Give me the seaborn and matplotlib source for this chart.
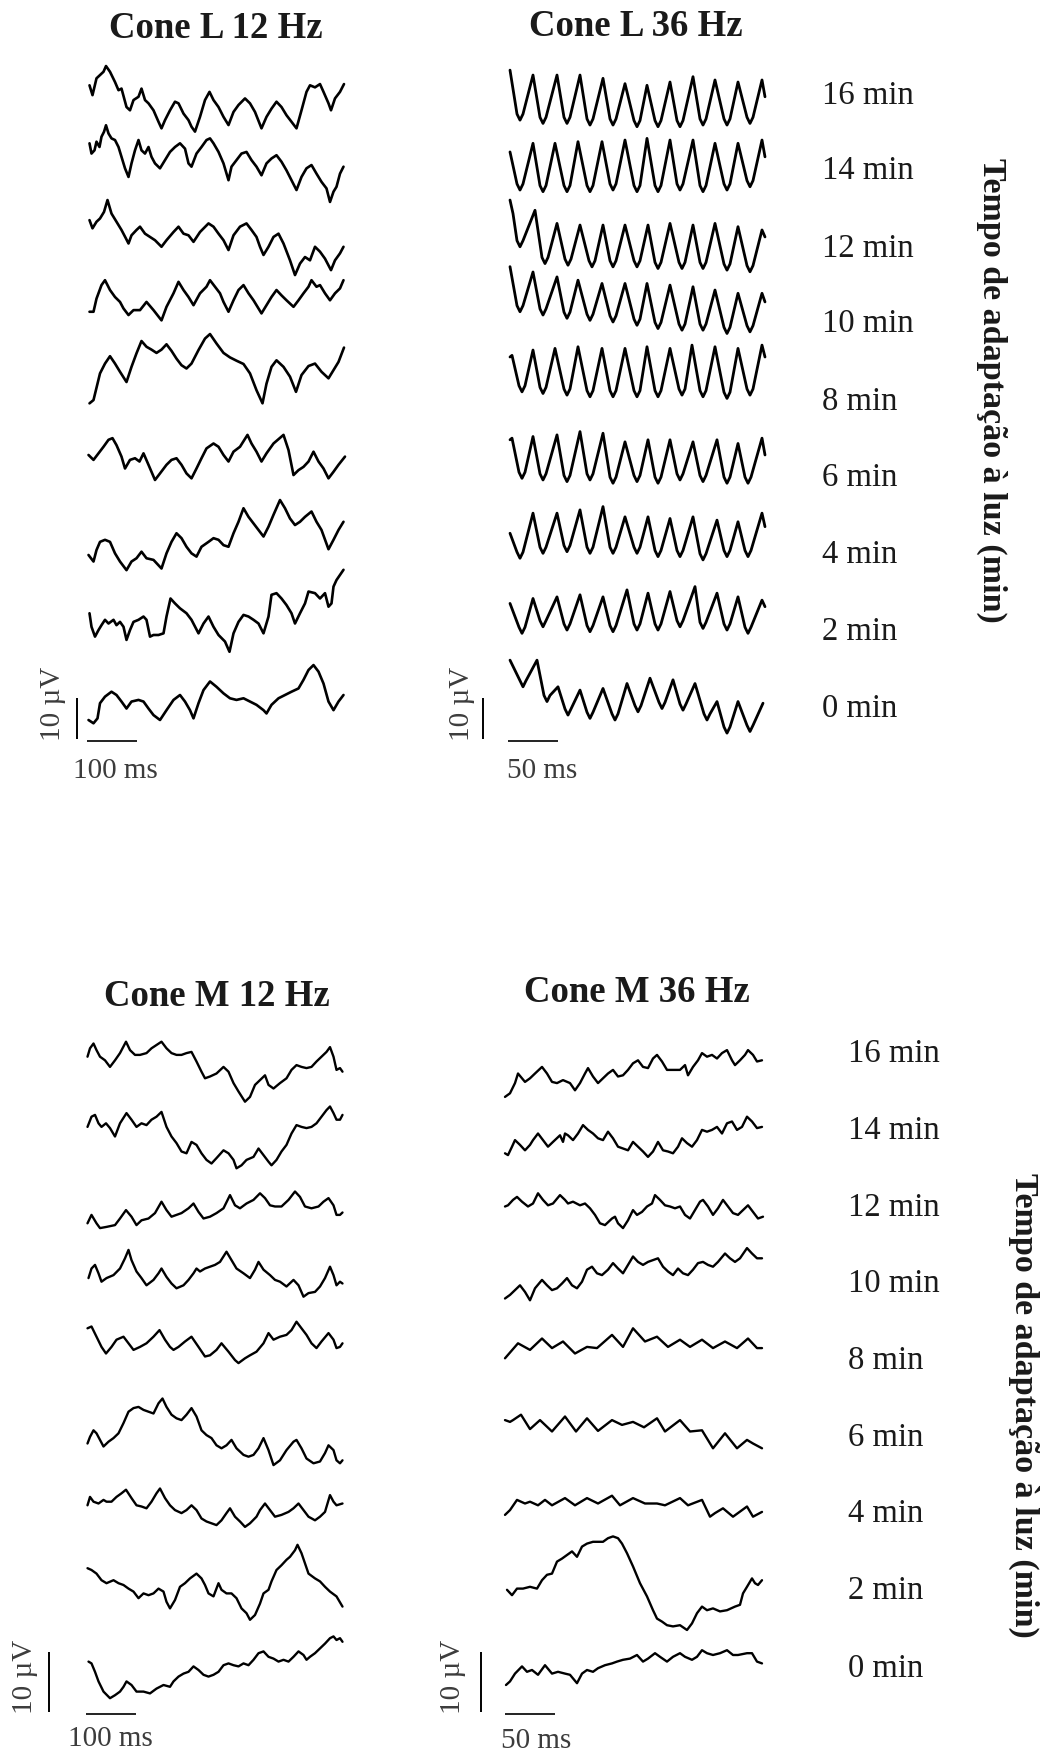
import numpy as np
import matplotlib
matplotlib.use("Agg")
import matplotlib.pyplot as plt
import seaborn as sns

sns.set_style("white")
plt.rcParams['font.family'] = ['Liberation Serif', 'DejaVu Serif']

# ---------------- data (time in ms, amplitude in µV) ----------------
MIN_LABELS = ["0 min", "2 min", "4 min", "6 min", "8 min", "10 min", "12 min", "14 min", "16 min"]
TITLES = ["Cone L 12 Hz", "Cone L 36 Hz", "Cone M 12 Hz", "Cone M 36 Hz"]
AXIS_LABEL = "Tempo de adaptação à luz (min)"

# ---- Cone L 12 Hz ----
L12_00_T = [1,11,19,24,34,47,57,67,77,87,101,111,121,131,144,157,171,184,194,204,211,221,231,244,257,271,284,297,311,324,337,351,357,367,381,394,407,421,431,441,451,461,471,481,491,501,511]
L12_00_V = [-6.1,-6.9,-5.7,-2.0,-0.4,0.8,0,-1.6,-3.3,-1.6,-1.2,-1.6,-3.3,-4.9,-6.1,-3.7,-1.2,0,-1.6,-3.7,-5.7,-2.0,1.2,3.3,2.0,0.4,-0.8,-1.2,-0.8,-1.6,-2.4,-3.7,-4.5,-2.4,-0.8,0,0.8,1.6,3.7,6.1,7.3,5.7,2.8,-1.6,-3.7,-1.6,0]
L12_02_T = [3,7,14,21,27,34,41,51,57,64,71,77,84,91,101,111,117,124,131,141,151,157,165,174,184,197,207,221,231,241,251,261,274,283,291,301,311,321,331,341,351,361,367,377,387,397,407,414,424,434,441,454,464,474,481,487,491,497,511]
L12_02_V = [1.4,-1.9,-4.3,-2.7,-1.5,-0.2,-1.1,-0.2,-1.5,-0.7,-1.9,-5.1,-2.7,-0.7,-0.2,0.6,-0.2,-4.3,-3.9,-3.9,-3.5,0.6,5.0,3.8,2.6,1.4,-0.2,-3.5,-1.1,0.6,-1.9,-3.9,-5.5,-8.0,-3.5,-0.7,1.0,0.6,-0.2,-1.1,-3.5,0.6,5.9,6.3,5.0,3.4,1.4,-1.1,1.4,3.8,6.7,6.3,5.0,6.3,3.0,3.8,7.9,9.5,12.0]
L12_04_T = [1,11,17,24,34,44,54,64,77,87,97,107,117,131,147,157,167,177,187,197,207,217,227,241,251,261,271,281,291,301,311,321,331,341,351,361,371,384,394,404,414,424,434,447,457,467,481,491,501,511]
L12_04_V = [-2.8,-4.4,-1.6,0.4,0.9,0.4,-2.4,-4.4,-6.5,-4.4,-3.6,-2.0,-3.6,-4.0,-6.1,-2.4,0.4,2.5,1.3,-0.8,-2.4,-3.2,-0.8,0.4,1.3,0.9,-0.4,-0.8,2.5,5.3,8.6,6.5,4.9,3.3,1.7,4.1,7.0,10.6,8.6,6.1,4.5,5.3,6.5,7.8,5.3,3.3,-1.4,0.9,3.3,5.3]
L12_06_T = [1,11,21,31,41,49,57,67,74,84,94,103,111,121,134,144,157,167,177,187,197,207,217,227,237,251,261,271,281,291,304,319,327,337,347,357,371,391,401,411,421,431,441,451,461,471,481,491,501,514]
L12_06_V = [3.3,2.1,3.7,5.3,7.0,7.4,5.7,2.9,0,2.1,2.5,1.7,3.7,0.9,-2.8,-1.2,0.9,2.1,2.5,0.9,-1.2,-2.4,0,2.5,4.9,6.1,5.3,3.3,1.7,4.1,5.3,8.2,6.1,4.1,1.7,3.7,6.1,8.2,4.5,-1.6,-0.4,0.4,1.7,4.1,1.7,0,-2.4,-0.8,0.9,2.9]
L12_08_T = [3,11,24,34,44,54,64,77,87,97,107,117,127,137,147,157,167,177,187,197,207,221,234,244,257,271,284,297,311,324,337,349,357,367,377,391,404,416,427,441,454,467,481,491,501,512]
L12_08_V = [-2.4,-1.6,4.9,7.3,9.1,7.3,5.3,2.8,6.5,9.8,12.8,11.4,10.7,9.9,10.7,12.0,10.4,8.5,6.9,6.1,7.3,10.6,13.4,14.5,12.2,9.9,8.8,8.0,7.2,4.9,0.8,-2.4,2.4,6.5,8.1,6.5,4.1,0.4,4.5,6.7,7.3,5.3,3.7,5.7,7.7,11.2]
L12_10_T = [3,11,17,27,34,44,54,64,71,81,91,104,117,131,147,157,171,181,191,201,211,224,237,244,254,264,271,281,291,301,311,321,331,337,347,357,367,377,387,397,411,421,431,441,447,457,464,474,484,494,504,511]
L12_10_V = [1.4,1.4,4.6,7.9,9.1,6.7,5.0,3.8,2.2,0.6,1.8,1.8,3.8,1.8,-0.7,2.6,5.9,8.7,6.7,5.0,3.0,5.9,7.5,9.1,7.5,5.9,3.8,1.4,4.2,6.7,7.9,5.9,4.2,3.0,1.0,3.0,5.0,6.7,5.4,4.2,2.6,4.2,5.9,7.5,9.1,7.5,7.9,5.9,4.2,5.9,7.1,9.1]
L12_12_T = [3,9,17,24,32,39,47,57,67,76,81,87,97,104,114,124,134,147,157,171,181,191,201,211,224,241,251,261,271,281,291,304,317,327,337,344,351,361,371,381,391,404,414,424,434,444,454,464,474,486,494,504,511]
L12_12_V = [5.7,3.7,5.3,6.1,7.7,10.6,7.3,5.3,3.3,1.2,0,2.0,3.3,4.1,2.4,1.6,0.8,-0.8,0.8,2.8,4.1,2.4,2.0,0.4,2.8,4.9,4.1,2.4,0.8,-1.6,2.0,4.1,4.9,3.3,1.6,-0.8,-2.8,-0.8,1.6,2.4,0,-4.1,-7.7,-4.9,-3.3,-4.1,-0.8,-2.0,-3.7,-6.5,-4.1,-2.4,-0.8]
L12_14_T = [3,7,13,17,23,27,32,36,41,47,54,61,67,74,81,87,94,101,107,114,121,127,134,144,154,164,174,184,194,201,207,217,227,237,244,251,261,271,281,287,297,307,317,327,337,347,357,367,377,387,397,407,417,427,437,447,457,467,477,484,491,497,504,511]
L12_14_V = [5.9,3.4,4.2,6.3,5.0,7.5,8.7,10.3,8.3,7.1,6.7,5.0,2.6,-0.2,-2.3,1.0,4.2,6.7,4.2,3.4,5.0,2.6,1.0,-0.2,1.8,3.8,5.0,5.9,4.6,1.0,0.2,3.4,5.0,6.7,7.1,5.9,3.8,1.0,-3.1,0.2,1.8,3.4,3.8,1.8,0.2,-1.9,1.0,2.2,3.0,1.4,-0.7,-3.1,-5.5,-2.3,-0.2,0.6,-1.5,-3.5,-5.1,-8.4,-5.9,-4.7,-1.5,0.2]
L12_16_T = [3,9,17,24,31,36,44,54,61,67,77,84,91,101,107,114,121,131,141,147,154,164,174,181,191,201,207,214,224,234,243,251,261,271,281,291,301,314,324,334,347,357,367,377,387,397,407,417,427,437,444,454,464,471,481,486,494,504,512]
L12_16_V = [2.0,-0.4,3.7,4.5,5.3,6.7,5.3,2.8,0.8,1.2,-3.3,-4.1,-1.6,-0.8,1.2,-1.6,-2.4,-4.1,-6.9,-8.5,-6.5,-4.1,-2.0,-2.4,-4.9,-6.5,-8.1,-9.3,-5.7,-1.6,0.4,-1.6,-3.3,-5.7,-7.7,-4.5,-2.8,-1.2,-2.4,-4.5,-8.5,-5.7,-3.7,-2.0,-3.3,-5.3,-6.9,-8.5,-4.1,0.4,2.0,1.5,2.3,0.4,-2.4,-4.1,-1.2,0.4,2.3]

# ---- Cone L 36 Hz ----
L36_00_T = [0,10,13,16,27,34,37,40,48,55,58,61,70,77,80,83,93,102,105,108,117,125,128,131,140,149,152,155,163,170,173,176,185,194,197,200,207,214,217,220,228,237,240,243,253]
L36_00_V = [8.5,3.5,2.0,3.5,8.5,-0.1,-1.6,-0.1,2.0,-3.4,-4.9,-3.4,1.2,-4.2,-5.7,-4.2,1.6,-4.6,-6.1,-4.6,2.8,-2.6,-4.1,-2.6,4.1,-1.8,-3.3,-1.8,3.7,-2.2,-3.7,-2.2,2.8,-4.6,-6.1,-4.6,-1.6,-7.8,-9.3,-7.8,-1.6,-7.4,-8.9,-7.4,-2.0]
L36_02_T = [0,9,12,15,23,30,33,36,47,54,57,60,70,77,80,83,93,100,103,106,117,124,127,130,138,145,148,151,160,167,170,173,185,190,193,196,207,214,217,220,228,235,238,241,252,255]
L36_02_V = [3.8,-2.0,-3.5,-2.0,5.0,-0.4,-1.9,-0.4,5.4,-1.2,-2.7,-1.2,5.9,-1.6,-3.1,-1.6,5.4,-1.6,-3.1,-1.6,7.1,-1.2,-2.7,-1.2,6.3,-1.2,-2.7,-1.2,6.7,-0.4,-1.9,-0.4,7.9,-0.8,-2.3,-0.8,6.3,-1.2,-2.7,-1.2,5.4,-2.0,-3.5,-2.0,4.6,3.0]
L36_04_T = [0,7,10,13,23,30,33,36,47,54,57,60,70,77,80,83,93,100,103,106,115,124,127,130,138,145,148,151,160,167,170,173,183,190,193,196,207,214,217,220,228,235,238,241,252,255]
L36_04_V = [2.5,-2.1,-3.6,-2.1,7.4,-0.9,-2.4,-0.9,7.4,-0.5,-2.0,-0.5,8.2,-0.9,-2.4,-0.9,9.0,-0.9,-2.4,-0.9,6.5,-0.9,-2.4,-0.9,6.5,-1.7,-3.2,-1.7,6.1,-1.7,-3.2,-1.7,6.5,-2.5,-4.0,-2.5,5.7,-1.7,-3.2,-1.7,5.3,-1.7,-3.2,-1.7,7.4,4.1]
L36_06_T = [0,2,9,12,15,23,30,33,36,47,54,57,60,70,77,80,83,93,100,103,106,115,124,127,130,138,145,148,151,160,167,170,173,183,190,193,196,207,214,217,220,228,235,238,241,252,255]
L36_06_V = [7.0,7.4,-0.9,-2.4,-0.9,7.8,-1.3,-2.8,-1.3,8.2,-1.7,-3.2,-1.7,9.0,-1.3,-2.8,-1.3,8.6,-2.1,-3.6,-2.1,6.5,-1.7,-3.2,-1.7,7.0,-2.1,-3.6,-2.1,7.0,-1.3,-2.8,-1.3,6.5,-1.7,-3.2,-1.7,7.0,-2.1,-3.6,-2.1,6.1,-2.1,-3.6,-2.1,7.4,3.3]
L36_08_T = [0,2,9,12,15,23,30,33,36,45,54,57,60,68,77,80,83,92,100,103,106,115,124,127,130,137,145,148,151,160,169,172,175,182,190,193,196,205,214,217,220,228,237,240,243,252,255]
L36_08_V = [8.9,9.3,1.9,0.4,1.9,10.6,1.5,0,1.5,11.0,1.1,-0.4,1.1,11.4,0.7,-0.8,0.7,11.0,0.7,-0.8,0.7,11.0,0.7,-0.8,0.7,11.4,0.7,-0.8,0.7,11.0,1.1,-0.4,1.1,11.8,0.7,-0.8,0.7,11.4,0.3,-1.2,0.3,11.0,1.1,-0.4,1.1,11.8,8.9]
L36_10_T = [0,7,10,13,23,30,33,36,47,54,57,60,68,77,80,83,92,100,103,106,115,124,127,130,137,145,148,151,160,169,172,175,183,190,193,196,205,214,217,220,228,237,240,243,252,255]
L36_10_V = [12.4,2.9,1.4,2.9,11.1,2.1,0.6,2.1,9.9,1.3,-0.2,1.3,9.1,0.8,-0.7,0.8,8.3,0.4,-1.1,0.4,8.3,-0.4,-1.9,-0.4,8.3,-1.2,-2.7,-1.2,7.9,-1.6,-3.1,-1.6,7.5,-1.6,-3.1,-1.6,6.7,-2.4,-3.9,-2.4,5.9,-2.0,-3.5,-2.0,5.9,3.8]
L36_12_T = [0,3,7,10,13,25,32,35,38,47,55,58,61,70,79,82,85,93,100,103,106,115,124,127,130,138,145,148,151,160,169,172,175,183,190,193,196,205,214,217,220,228,237,240,243,252,255]
L36_12_V = [10.6,7.3,0.7,-0.8,0.7,8.1,-3.4,-4.9,-3.4,4.9,-3.8,-5.3,-3.8,4.5,-4.2,-5.7,-4.2,4.5,-4.2,-5.7,-4.2,4.5,-4.2,-5.7,-4.2,4.5,-4.6,-6.1,-4.6,4.9,-4.6,-6.1,-4.6,4.5,-4.6,-6.1,-4.6,4.9,-5.0,-6.5,-5.0,4.1,-5.4,-6.9,-5.4,3.3,1.6]
L36_14_T = [0,7,10,13,23,30,33,36,45,54,57,60,68,77,80,83,92,100,103,106,115,124,127,130,137,145,148,151,160,167,170,173,183,190,193,196,205,214,217,220,228,237,240,243,252,255]
L36_14_V = [3.8,-4.0,-5.5,-4.0,5.9,-4.4,-5.9,-4.4,5.9,-4.4,-5.9,-4.4,6.3,-4.4,-5.9,-4.4,6.3,-4.0,-5.5,-4.0,6.7,-4.4,-5.9,-4.4,7.1,-4.4,-5.9,-4.4,6.7,-4.0,-5.5,-4.0,6.7,-4.4,-5.9,-4.4,5.9,-4.0,-5.5,-4.0,5.9,-3.2,-4.7,-3.2,6.7,2.6]
L36_16_T = [0,7,10,13,23,30,33,36,47,54,57,60,70,77,80,83,93,100,103,106,115,124,127,130,137,145,148,151,160,167,170,173,183,190,193,196,205,214,217,220,228,237,240,243,252,255]
L36_16_V = [5.7,-5.0,-6.5,-5.0,4.5,-5.8,-7.3,-5.8,4.5,-5.8,-7.3,-5.8,4.5,-6.2,-7.7,-6.2,3.7,-6.2,-7.7,-6.2,2.4,-6.6,-8.1,-6.6,2.0,-6.6,-8.1,-6.6,2.8,-6.6,-8.1,-6.6,4.1,-6.2,-7.7,-6.2,3.3,-6.2,-7.7,-6.2,2.8,-5.8,-7.3,-5.8,3.3,-0.8]

# ---- Cone M 12 Hz ----
M12_00_T = [3,9,16,23,33,46,56,66,73,79,89,99,113,126,139,153,166,173,183,193,203,213,223,233,243,253,263,273,283,293,303,313,323,333,343,353,363,373,383,393,403,413,423,433,439,446,456,466,476,486,493,499,506,511]
M12_00_V = [-1.1,-1.4,-2.8,-4.4,-6.1,-7.2,-6.7,-6.1,-5.3,-4.4,-5.0,-6.1,-6.1,-6.4,-5.6,-5.0,-5.3,-4.4,-3.6,-3.1,-2.8,-1.9,-2.5,-3.3,-3.6,-3.3,-2.8,-1.7,-1.4,-1.7,-1.9,-1.4,-1.7,-0.8,0.3,0.6,-0.3,-0.6,-1.1,-0.8,-1.1,-0.3,0.6,0,-0.8,-0.3,0.3,1.1,1.9,2.8,3.1,2.5,2.8,2.2]
M12_02_T = [1,9,19,29,39,53,63,73,83,93,103,113,123,133,143,153,159,166,176,186,196,206,219,229,236,243,253,263,269,279,289,299,309,319,326,336,346,353,363,369,379,389,399,406,416,421,429,436,443,456,466,476,486,499,511]
M12_02_V = [1.8,1.5,0.9,-0.2,-0.7,-0.2,-0.7,-1.0,-1.6,-2.1,-3.2,-2.4,-2.7,-2.4,-1.6,-2.1,-3.8,-4.9,-3.5,-1.3,-0.7,0.1,0.9,0.1,-1.0,-2.4,-2.9,-0.7,-1.8,-2.4,-2.4,-3.2,-4.9,-5.7,-6.8,-6.0,-4.1,-2.4,-1.8,-0.4,1.5,2.3,3.2,3.7,4.8,5.7,4.3,2.6,0.9,0.1,-0.4,-1.3,-2.1,-2.9,-4.6]
M12_04_T = [1,6,13,23,33,39,49,59,69,78,89,99,109,119,129,139,146,156,166,176,189,199,209,219,229,239,249,259,269,279,286,296,306,316,326,339,346,356,366,376,389,403,413,423,433,443,456,466,476,486,493,499,511]
M12_04_V = [-0.3,1.1,0.3,0,0.6,0.3,0.3,1.1,1.7,2.3,0.9,-0.3,-0.5,-0.8,0.3,1.7,2.5,0.9,-0.3,-1.1,-1.6,-1.1,-0.3,-1.1,-2.5,-3.0,-3.3,-3.6,-2.8,-1.6,-0.8,-2.2,-3.0,-3.9,-3.3,-2.2,-1.1,0,-1.1,-2.2,-1.9,-1.4,-0.8,0,-1.1,-2.2,-2.8,-2.2,-1.4,1.4,0.3,-0.3,0]
M12_06_T = [1,6,13,19,26,33,43,53,63,73,83,93,103,113,123,133,143,151,159,169,179,189,199,209,219,229,239,249,259,269,279,289,299,313,323,333,343,353,363,373,386,399,413,419,429,439,453,466,476,483,493,499,506,511]
M12_06_V = [-2.5,-1.4,-0.3,-0.8,-1.9,-3.0,-2.2,-1.6,-0.8,0.9,2.8,3.4,3.6,3.1,2.8,2.5,4.2,5.0,3.6,2.3,1.7,1.4,2.3,3.4,2.0,-0.3,-1.1,-1.6,-2.8,-3.3,-2.8,-1.9,-3.3,-4.4,-4.7,-4.4,-3.3,-1.6,-3.6,-6.1,-5.3,-3.6,-2.2,-1.9,-3.3,-5.0,-5.8,-5.5,-4.1,-2.8,-3.6,-5.3,-5.8,-5.3]
M12_08_T = [1,9,19,29,38,49,59,73,83,93,106,119,133,145,156,166,173,183,196,209,223,236,246,259,269,283,296,303,316,326,339,353,363,373,386,399,409,419,429,439,449,459,469,483,493,499,506,511]
M12_08_V = [4.2,4.5,2.8,1.1,0,1.1,2.3,2.8,1.7,0.6,1.1,1.7,2.8,3.9,2.3,1.1,0.6,1.1,2.0,2.8,1.1,-0.5,-0.3,0.6,1.7,0.3,-1.1,-1.6,-0.8,-0.3,0.3,1.7,3.4,2.3,2.8,3.1,3.9,5.3,4.2,3.1,1.7,0.9,2.0,3.4,2.3,0.9,1.1,1.7]
M12_10_T = [3,9,16,23,29,39,53,66,76,83,89,99,109,119,133,143,149,159,169,179,193,203,213,219,226,236,246,256,266,279,289,299,313,326,336,343,353,366,376,386,399,413,423,433,443,456,466,476,486,493,499,506,511]
M12_10_V = [-0.1,1.5,2.1,0.7,-0.7,-0.1,0.4,1.5,3.2,4.6,2.9,1.0,-0.1,-1.3,-0.4,0.7,1.5,0.1,-1.0,-1.8,-1.3,-0.4,0.7,1.5,1.0,1.5,1.8,2.1,2.6,4.3,2.9,1.5,0.7,-0.1,1.3,2.6,1.3,0.4,-0.4,-0.7,-1.5,-0.4,-1.3,-3.2,-2.6,-2.4,-1.5,-0.1,1.8,0.4,-1.3,-0.7,-1.0]
M12_12_T = [1,9,19,26,39,56,66,78,89,99,109,123,136,149,159,169,179,189,203,213,223,233,246,259,273,286,296,306,319,333,346,356,366,376,389,403,416,426,436,449,463,473,483,493,499,506,511]
M12_12_V = [-3.3,-1.9,-3.3,-4.1,-3.9,-3.6,-2.5,-1.1,-2.2,-3.6,-2.8,-2.5,-1.6,0.3,-1.1,-2.2,-1.9,-1.6,-0.8,0,-1.4,-2.5,-2.2,-1.6,-0.8,1.4,-0.3,-0.8,0,0.6,1.7,0.9,-0.3,-0.5,-0.5,0.6,2.0,1.1,-0.5,-0.8,-0.5,0.3,0.9,-0.3,-1.9,-1.9,-1.5]
M12_14_T = [1,9,16,23,29,38,46,56,66,79,89,99,109,119,129,139,149,159,169,179,189,199,209,219,229,239,249,259,273,283,293,299,309,319,333,343,353,363,369,379,389,399,409,419,429,439,449,459,469,479,486,493,499,506,511]
M12_14_V = [0.1,1.8,2.1,0.7,0.1,0.7,-0.1,-1.5,0.7,2.4,1.3,0.1,0.7,0.4,1.3,1.8,2.6,0.1,-1.5,-2.6,-4.0,-4.3,-2.4,-2.9,-4.3,-5.4,-6.0,-5.1,-3.8,-4.3,-5.4,-6.8,-6.3,-5.4,-4.9,-3.5,-4.6,-5.7,-6.3,-5.4,-4.0,-2.9,-1.0,0.4,0.1,-0.1,0.1,0.7,1.8,2.9,3.5,2.4,1.3,1.3,2.1]
M12_16_T = [1,6,13,19,26,36,46,56,66,78,86,96,106,119,129,149,159,169,179,189,199,209,219,229,236,246,259,273,283,293,303,316,326,336,346,356,363,373,386,399,409,419,429,439,449,459,469,479,486,493,499,506,511]
M12_16_V = [-0.7,0.7,1.5,0.4,-0.7,-1.3,-2.4,-1.3,-0.1,1.8,0.4,-0.4,-0.4,-0.1,0.7,1.8,0.7,-0.1,-0.4,-0.4,-0.1,0.1,-1.5,-3.2,-4.3,-4.0,-3.5,-2.4,-3.2,-5.1,-6.5,-8.2,-7.4,-5.4,-4.6,-3.8,-5.4,-6.0,-5.1,-4.3,-2.9,-2.1,-2.4,-2.6,-2.4,-1.5,-0.7,0.1,0.9,-0.7,-2.9,-2.6,-3.2]

# ---- Cone M 36 Hz ----
M36_00_T = [1,5,10,17,22,27,33,40,47,53,60,65,72,77,82,88,93,100,107,112,118,125,132,138,143,150,155,162,168,175,180,187,192,197,202,208,215,222,228,233,242,247,252,257]
M36_00_V = [-5.0,-4.4,-3.1,-1.9,-2.8,-2.5,-3.3,-1.7,-3.1,-2.8,-3.1,-3.3,-4.7,-3.1,-2.5,-2.8,-2.2,-1.7,-1.4,-1.1,-0.8,-0.6,0,-1.1,-0.6,0.3,-0.3,-1.1,-0.3,0.3,-0.3,-0.8,-0.3,0.8,0.3,0,0.3,0.8,0,0,0.3,0.3,-1.1,-1.4]
M36_02_T = [2,7,12,18,25,32,37,42,47,52,57,62,67,72,77,82,88,93,98,103,108,113,117,122,128,135,142,148,152,157,162,168,175,182,187,192,197,202,208,215,222,230,235,238,242,247,250,253,257]
M36_02_V = [-1.8,-2.7,-1.6,-1.6,-1.3,-1.6,-0.2,0.7,0.9,2.9,3.4,4.0,4.6,3.7,5.4,5.9,6.2,6.2,6.2,6.8,7.1,6.8,5.9,4.3,2.1,-0.7,-2.9,-5.2,-6.6,-7.1,-7.7,-7.9,-7.7,-8.5,-7.4,-5.7,-4.6,-5.2,-4.9,-5.4,-5.2,-4.6,-4.3,-2.4,-1.3,0.1,-0.7,-1.0,-0.2]
M36_04_T = [0,5,12,20,25,33,40,47,60,70,82,93,107,115,128,140,152,160,175,183,197,205,210,218,228,242,248,257]
M36_04_V = [-1.9,-1.1,0.6,0,0.3,-0.3,0.6,-0.3,0.9,-0.3,0.9,0,1.3,-0.3,0.9,0,0,-0.3,0.9,-0.3,0.6,-2.2,-1.6,-0.8,-2.2,-0.5,-2.2,-1.4]
M36_06_T = [0,5,8,16,25,35,47,60,71,82,93,107,117,128,139,152,160,175,185,197,208,220,232,242,248,257]
M36_06_V = [1.4,1.1,1.4,2.3,-0.1,1.4,-0.5,2.0,-0.5,1.7,-0.4,1.4,0.6,1.1,0.2,1.7,-0.5,1.4,-0.5,-0.3,-3.3,-0.8,-3.3,-1.9,-2.5,-3.3]
M36_08_T = [0,13,25,37,47,58,70,82,92,107,118,128,140,152,163,175,185,197,208,220,232,243,252,257]
M36_08_V = [-0.8,1.7,0.6,2.5,0.9,2.0,0,1.1,0.9,3.1,1.1,4.2,2.0,2.8,1.1,2.3,1.1,2.3,0.9,2.0,0.9,2.5,0.9,0.9]
M36_10_T = [0,5,10,15,20,25,30,37,42,47,52,57,62,67,72,77,82,87,92,97,103,108,113,118,123,128,133,138,143,148,153,158,163,168,173,178,183,188,193,198,203,208,213,220,225,230,235,242,247,252,257]
M36_10_V = [-3.5,-2.9,-2.1,-1.3,-2.4,-3.8,-1.8,-0.4,-1.3,-2.1,-1.8,-1.0,-0.1,-1.3,-1.8,-0.7,1.3,1.8,0.7,0.4,1.3,2.4,1.5,0.7,2.1,3.5,2.6,2.1,2.6,2.9,3.2,1.8,1.0,0.4,1.5,0.7,0.4,1.3,2.4,2.6,2.1,1.8,2.6,4.0,3.2,2.6,3.2,4.9,4.0,3.2,3.2]
M36_12_T = [0,3,8,12,17,23,28,33,38,43,48,55,60,63,68,75,80,85,90,95,100,107,110,113,118,123,128,132,137,142,147,150,155,160,165,170,175,180,185,190,195,198,203,208,213,218,223,228,233,238,243,248,253,258]
M36_12_V = [-0.5,-0.3,0.6,1.1,0.3,-0.5,0,1.7,0.6,-0.3,0,1.4,0.6,0,0.3,-0.3,0,-0.8,-1.9,-3.3,-3.6,-2.5,-2.2,-3.3,-4.1,-2.8,-1.1,-1.9,-1.4,-0.5,0,1.4,0.6,-0.3,-0.5,-0.8,-0.5,-1.9,-2.5,-1.1,0.3,0.6,-0.5,-1.9,-0.8,0.6,-0.5,-1.6,-1.9,-1.1,-0.3,-1.4,-2.5,-2.2]
M36_14_T = [0,3,7,10,15,20,25,28,33,38,43,48,55,58,60,63,68,73,78,83,88,93,98,103,108,113,118,123,128,133,138,143,148,153,158,163,168,173,177,182,187,192,197,202,207,212,217,222,227,232,237,242,247,252,257]
M36_14_V = [-4.3,-4.6,-3.2,-2.1,-2.9,-3.8,-2.9,-2.1,-1.0,-2.1,-3.2,-2.4,-1.3,-2.4,-1.0,-1.3,-2.1,-1.0,0.4,-0.4,-1.0,-1.8,-2.1,-0.7,-1.8,-3.2,-3.5,-3.8,-2.4,-3.2,-4.0,-4.9,-4.0,-2.4,-3.8,-4.0,-4.3,-3.2,-1.8,-2.6,-3.2,-2.1,-0.4,-0.7,-0.4,0.1,-1.0,0.7,1.0,-0.4,0.1,1.8,1.0,-0.1,0.1]
M36_16_T = [0,5,10,13,20,25,30,37,42,47,52,58,65,70,75,80,83,88,93,98,103,108,113,118,123,128,133,138,143,148,152,157,162,168,175,180,183,188,193,197,202,207,212,217,222,227,230,235,240,243,248,252,257]
M36_16_V = [-7.4,-6.8,-5.1,-3.5,-4.9,-4.3,-3.5,-2.4,-3.5,-4.9,-5.1,-4.6,-5.1,-6.3,-5.1,-3.5,-2.6,-4.0,-5.1,-4.3,-3.5,-2.9,-4.0,-3.8,-2.9,-1.8,-1.3,-2.4,-2.6,-1.0,-0.4,-1.5,-2.9,-2.9,-2.9,-2.1,-3.8,-2.4,-1.3,-0.1,-0.7,-0.4,-1.0,-0.1,0.4,-1.3,-2.1,-1.3,-0.4,0.4,-0.4,-1.5,-1.3]

L12 = [(L12_00_T, L12_00_V), (L12_02_T, L12_02_V), (L12_04_T, L12_04_V), (L12_06_T, L12_06_V),
       (L12_08_T, L12_08_V), (L12_10_T, L12_10_V), (L12_12_T, L12_12_V), (L12_14_T, L12_14_V),
       (L12_16_T, L12_16_V)]
L36 = [(L36_00_T, L36_00_V), (L36_02_T, L36_02_V), (L36_04_T, L36_04_V), (L36_06_T, L36_06_V),
       (L36_08_T, L36_08_V), (L36_10_T, L36_10_V), (L36_12_T, L36_12_V), (L36_14_T, L36_14_V),
       (L36_16_T, L36_16_V)]
M12 = [(M12_00_T, M12_00_V), (M12_02_T, M12_02_V), (M12_04_T, M12_04_V), (M12_06_T, M12_06_V),
       (M12_08_T, M12_08_V), (M12_10_T, M12_10_V), (M12_12_T, M12_12_V), (M12_14_T, M12_14_V),
       (M12_16_T, M12_16_V)]
M36 = [(M36_00_T, M36_00_V), (M36_02_T, M36_02_V), (M36_04_T, M36_04_V), (M36_06_T, M36_06_V),
       (M36_08_T, M36_08_V), (M36_10_T, M36_10_V), (M36_12_T, M36_12_V), (M36_14_T, M36_14_V),
       (M36_16_T, M36_16_V)]

# ---------------- layout (figure pixels) ----------------
W, H = 1046, 1759
TOP_ROWS = [695, 619, 543.5, 468.5, 393.5, 317.5, 243.5, 167.5, 93.5]       # trace anchors
BOT_ROWS = [1655, 1579, 1503.5, 1428.5, 1353.5, 1277.5, 1203.5, 1127.5, 1052.5]
TOP_LAB_Y = [709, 631.6, 554.6, 478, 401.5, 324, 248.5, 171, 95.4]          # row-label centres
BOT_LAB_Y = [1668.5, 1591, 1514, 1437.6, 1361, 1283.6, 1208, 1130.7, 1054]
TXT = '#1a1a1a'
TXT2 = '#3c3c3c'

fig = plt.figure(figsize=(W / 100, H / 100), dpi=100)
fig.patch.set_facecolor('white')


def ftxt(x, y, s, color=TXT, **kw):
    fig.text(x / W, 1 - y / H, s, color=color, **kw)


def panel(title, traces, rect, t0, px_ms, px_uv, rows, title_xy, vbar, hbar, hlen,
          vlab, hlab, lw):
    x0, y0, x1, y1 = rect
    ax = fig.add_axes([x0 / W, 1 - y1 / H, (x1 - x0) / W, (y1 - y0) / H])
    ax.set_xlim((x0 - t0) / px_ms, (x1 - t0) / px_ms)
    ax.set_ylim(0, (y1 - y0) / px_uv)
    ax.set_axis_off()
    for (t, v), base in zip(traces, rows):
        off = (y1 - base) / px_uv
        sns.lineplot(x=np.asarray(t, float), y=np.asarray(v, float) + off, ax=ax,
                     color='black', linewidth=lw, estimator=None, sort=False)
    for ln in ax.get_lines():
        ln.set_solid_joinstyle('round')
    # scale bars (10 µV and hlen ms)
    vx = (vbar[0] - t0) / px_ms
    vy = (y1 - vbar[1]) / px_uv
    ax.plot([vx, vx], [vy, vy + 10], color='black', lw=1.4, solid_capstyle='butt')
    hx = (hbar[0] - t0) / px_ms
    hy = (y1 - hbar[1]) / px_uv
    ax.plot([hx, hx + hlen], [hy, hy], color='#222222', lw=1.4, solid_capstyle='butt')
    ftxt(title_xy[0], title_xy[1], title, fontsize=26.5, fontweight='bold', ha='center', va='center')
    ftxt(vlab[0], vlab[1], "10 µV", color=TXT2, fontsize=21, rotation=90, ha='center', va='center')
    ftxt(hlab[0], hlab[1], f"{hlen} ms", color=TXT2, fontsize=21, ha='center', va='center')


panel(TITLES[0], L12, (20, 45, 380, 800), 88, 0.5, 4.1, TOP_ROWS, (216, 29),
      (77, 739), (87, 741), 100, (53, 704), (115, 771), 1.9)
panel(TITLES[1], L36, (440, 45, 800, 800), 510, 1.0, 4.1, TOP_ROWS, (636, 26),
      (483, 739), (508, 741), 50, (462, 704), (542, 771), 2.0)
panel(TITLES[2], M12, (0, 1010, 380, 1759), 87, 0.5, 6.0, BOT_ROWS, (217, 997),
      (49, 1712), (86, 1714), 100, (25, 1677), (110, 1739), 1.7)
panel(TITLES[3], M36, (440, 1010, 800, 1759), 505, 1.0, 6.0, BOT_ROWS, (637, 992),
      (481, 1712), (505, 1714), 50, (453, 1677), (536, 1741), 1.7)

# row labels
for lab, y in zip(MIN_LABELS, TOP_LAB_Y):
    ftxt(822, y, lab, fontsize=23.5, ha='left', va='center')
for lab, y in zip(MIN_LABELS, BOT_LAB_Y):
    ftxt(848, y, lab, fontsize=23.5, ha='left', va='center')

ftxt(992, 390, AXIS_LABEL, fontsize=24.5, fontweight='bold', rotation=270, ha='center', va='center')
ftxt(1024, 1405, AXIS_LABEL, fontsize=24.5, fontweight='bold', rotation=270, ha='center', va='center')

fig.savefig("out.png", dpi=100, facecolor='white')
